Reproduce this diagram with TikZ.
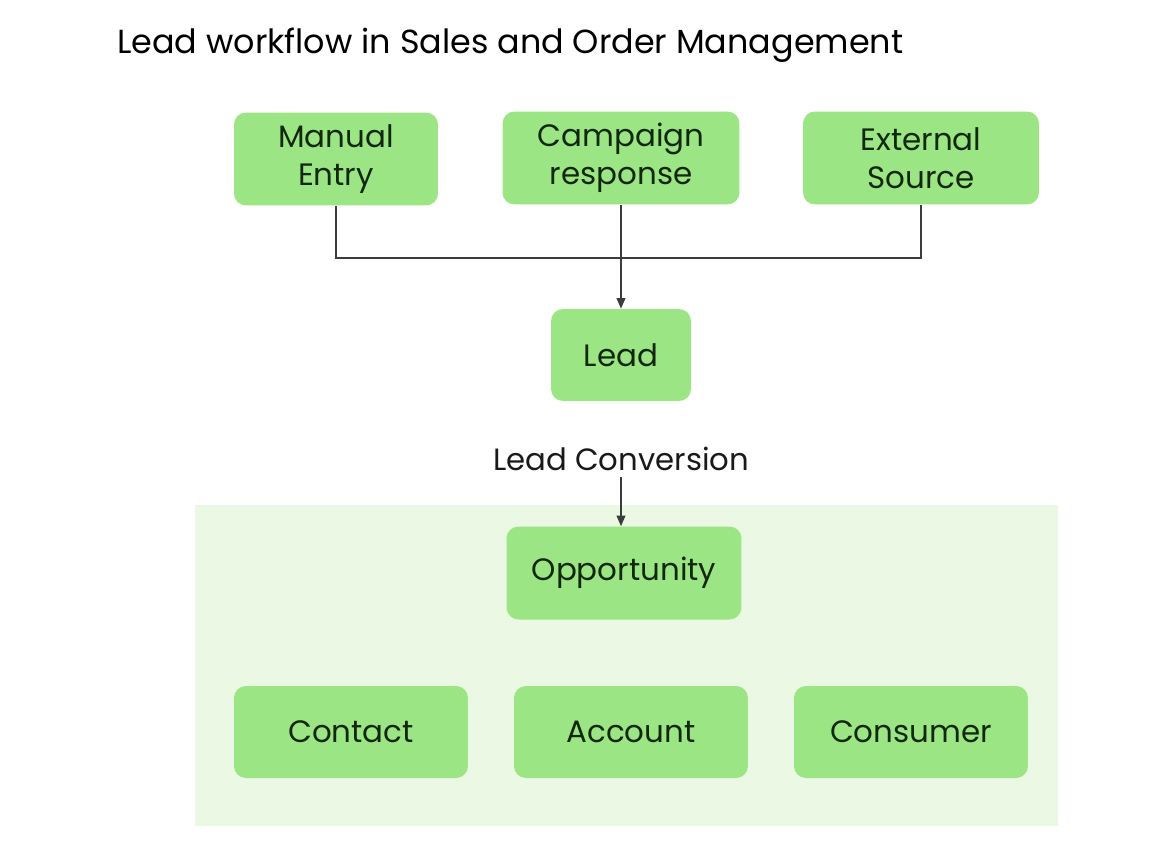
\documentclass[tikz,border=0pt]{standalone}
\usepackage{fontspec}
\setmainfont{Poppins}
\usetikzlibrary{arrows.meta,positioning}
\definecolor{boxgreen}{RGB}{155,229,132}
\definecolor{zonegreen}{RGB}{234,248,228}
\definecolor{textgreen}{RGB}{18,40,12}
\definecolor{linegray}{RGB}{60,60,60}

\begin{document}
\begin{tikzpicture}[
  x=0.02cm, y=-0.02cm,
  stage/.style={rectangle, rounded corners=0.24cm, fill=boxgreen,
                minimum height=1.86cm, inner sep=0pt, align=center,
                text=textgreen, font=\fontsize{17.6}{21.5}\selectfont},
  lbl/.style={font=\fontsize{17.5}{21}\selectfont, text=black!90},
  arr/.style={-{Triangle[length=6pt,width=5pt]}, draw=linegray, line width=0.8pt},
  link/.style={draw=linegray, line width=0.8pt},
]
\useasboundingbox (0,0) rectangle (1170,853);

% Title
\node[lbl, anchor=west, text=black, font=\fontsize{19}{23}\selectfont] (title) at (111,45)
  {Lead workflow in Sales and Order Management};

% Converted records zone
\fill[zonegreen] (195,505) rectangle (1058,826);

% Lead sources
\node[stage, minimum width=4.08cm] (manual) at (336,159) {Manual\\Entry};
\node[stage, minimum width=4.74cm] (campaign) at (621,158) {Campaign\\response};
\node[stage, minimum width=4.72cm] (external) at (921,158) {External\\Source};

% Lead
\node[stage, minimum width=2.8cm, minimum height=1.84cm] (lead) at (621,355) {Lead};
\coordinate (bus) at (621,258);
\draw[link] (manual.south) |- (bus) -| (external.south);
\draw[arr] (campaign.south) -- (lead.north);

% Conversion
\node[lbl] (conv) at (621,459) {Lead Conversion};
\node[stage, minimum width=4.7cm] (opp) at (624,573) {Opportunity};
\draw[arr] (conv.south) -- (opp.north -| conv.south);

% Converted records
\node[stage, minimum width=4.68cm, minimum height=1.84cm] (contact) at (351,732) {Contact};
\node[stage, minimum width=4.68cm, minimum height=1.84cm] (account) at (631,732) {Account};
\node[stage, minimum width=4.68cm, minimum height=1.84cm] (consumer) at (911,732) {Consumer};
\end{tikzpicture}
\end{document}
